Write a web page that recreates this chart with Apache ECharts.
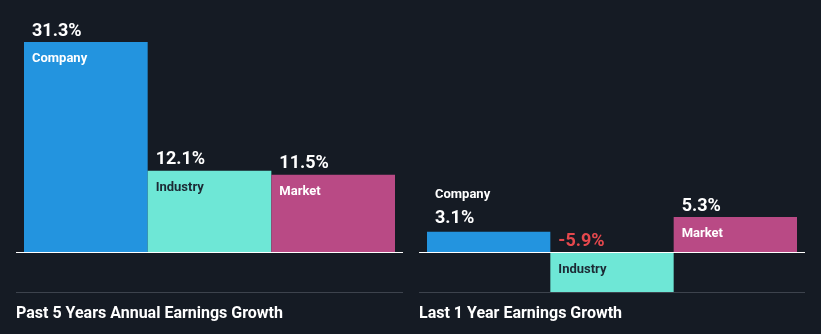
<!DOCTYPE html>
<html>
<head>
<meta charset="utf-8">
<script src="https://cdn.jsdelivr.net/npm/echarts@6/dist/echarts.min.js"></script>
<style>
html,body{margin:0;padding:0;background:#151b24;}
#main{width:821px;height:334px;}
</style>
</head>
<body>
<div id="main"></div>
<script>
const categories = ['Company', 'Industry', 'Market'];
const past5Years = [31.3, 12.1, 11.5];
const last1Year = [3.1, -5.9, 5.3];
const chartTitles = ['Past 5 Years Annual Earnings Growth', 'Last 1 Year Earnings Growth'];
const barColors = ['#2394df', '#6ee7d6', '#b94a85'];
const catTextColors = ['#ffffff', '#1c2934', '#ffffff'];

const FONT = 'Roboto, "Noto Sans", sans-serif';

function makeData(values) {
  return values.map(function (v, i) {
    const valText = v.toFixed(1) + '%';
    const smallPositive = v > 0 && v < 4;
    return {
      value: v,
      itemStyle: { color: barColors[i] },
      label: {
        show: true,
        position: smallPositive ? [8, -49] : [8, -25],
        align: 'left',
        verticalAlign: 'top',
        formatter: smallPositive ? ('{c|' + categories[i] + '}\n{v|' + valText + '}')
                                 : ('{v|' + valText + '}\n{c|' + categories[i] + '}'),
        rich: {
          v: { fontFamily: FONT, fontSize: 18, fontWeight: 'bold', color: v < 0 ? '#e5484d' : '#ffffff', lineHeight: smallPositive ? 24 : 28 },
          c: { fontFamily: FONT, fontSize: 13, fontWeight: 'bold', color: smallPositive ? '#ffffff' : catTextColors[i], lineHeight: smallPositive ? 24 : 28 }
        }
      }
    };
  });
}

const chart = echarts.init(document.getElementById('main'), null, { renderer: 'canvas' });

chart.setOption({
  backgroundColor: '#151b24',
  animation: false,
  title: [
    { text: chartTitles[0], left: 11, top: 301, textStyle: { color: '#ffffff', fontFamily: FONT, fontSize: 16, fontWeight: 'bold' } },
    { text: chartTitles[1], left: 414, top: 301, textStyle: { color: '#ffffff', fontFamily: FONT, fontSize: 16, fontWeight: 'bold' } }
  ],
  grid: [
    { left: 24, top: 42, width: 371, height: 210 },
    { left: 427, top: 217, width: 370, height: 75 }
  ],
  xAxis: [
    { type: 'category', gridIndex: 0, data: categories, show: false },
    { type: 'category', gridIndex: 1, data: categories, show: false }
  ],
  yAxis: [
    { type: 'value', gridIndex: 0, min: 0, max: 31.3, show: false, splitLine: { show: false } },
    { type: 'value', gridIndex: 1, min: -5.9, max: 5.3, show: false, splitLine: { show: false } }
  ],
  series: [
    { type: 'bar', xAxisIndex: 0, yAxisIndex: 0, barWidth: '100%', data: makeData(past5Years) },
    { type: 'bar', xAxisIndex: 1, yAxisIndex: 1, barWidth: '100%', data: makeData(last1Year) }
  ]
});

const zero0 = chart.convertToPixel({ xAxisIndex: 0, yAxisIndex: 0 }, [0, 0])[1];
const zero1 = chart.convertToPixel({ xAxisIndex: 1, yAxisIndex: 1 }, [0, 0])[1];

chart.setOption({
  graphic: [
    { type: 'line', shape: { x1: 16, y1: Math.round(zero0) + 0.5, x2: 403, y2: Math.round(zero0) + 0.5 }, style: { stroke: '#ffffff', lineWidth: 1 }, z: 100 },
    { type: 'line', shape: { x1: 419, y1: Math.round(zero1) + 0.5, x2: 805, y2: Math.round(zero1) + 0.5 }, style: { stroke: '#ffffff', lineWidth: 1 }, z: 100 },
    { type: 'line', shape: { x1: 16, y1: 292.5, x2: 403, y2: 292.5 }, style: { stroke: '#3d434d', lineWidth: 1 }, z: 100 },
    { type: 'line', shape: { x1: 419, y1: 292.5, x2: 805, y2: 292.5 }, style: { stroke: '#3d434d', lineWidth: 1 }, z: 100 }
  ]
});
</script>
</body>
</html>
